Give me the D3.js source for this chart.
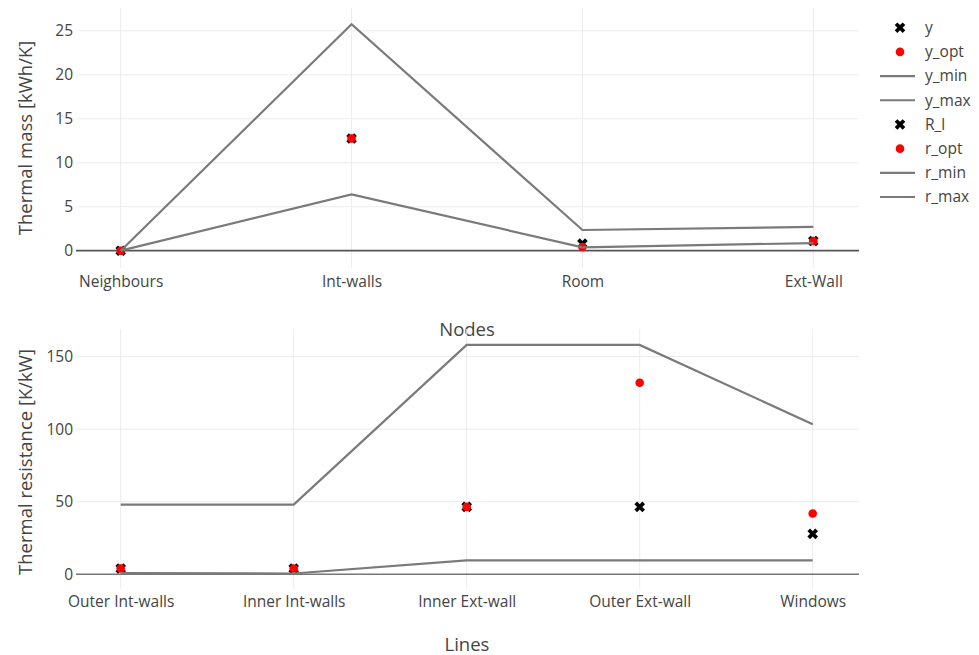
<!DOCTYPE html>
<html>
<head>
<meta charset="utf-8">
<script src="https://cdn.jsdelivr.net/npm/d3@7"></script>
<style>
  body { margin: 0; background: #fff; }
  svg { font-family: "Open Sans", "DejaVu Sans", sans-serif; }
</style>
</head>
<body>
<div></div>
<script>
// datos del grafico superior (nodos)
var nodes = ['Neighbours', 'Int-walls', 'Room', 'Ext-Wall'];
var y_val = [0, 12.75, 0.8, 1.1];
var y_opt = [0, 12.75, 0.42, 1.1];
var y_min = [0, 6.4, 0.38, 0.87];
var y_max = [0, 25.75, 2.35, 2.7];
var massTicks = [0, 5, 10, 15, 20, 25];

// datos del grafico inferior (lineas)
var lines = ['Outer Int-walls', 'Inner Int-walls', 'Inner Ext-wall', 'Outer Ext-wall', 'Windows'];
var R_l = [3.9, 3.9, 46.4, 46.4, 27.8];
var r_opt = [3.9, 3.9, 46.4, 132, 41.8];
var r_min = [0.7, 0.5, 9.5, 9.5, 9.5];
var r_max = [48, 48, 158, 158, 103.4];
var resTicks = [0, 50, 100, 150];

var legendNames = ['y', 'y_opt', 'y_min', 'y_max', 'R_l', 'r_opt', 'r_min', 'r_max'];
var legendKinds = ['x', 'dot', 'line', 'line', 'x', 'dot', 'line', 'line'];

var width = 979, height = 655;
var left = 76, right = 859;
var lineColor = '#7a7a7a';

var svg = d3.select('div')
    .append('svg')
    .attr('width', width)
    .attr('height', height);

svg.append('rect').attr('width', width).attr('height', height).attr('fill', '#fff');

function panel(cfg) {
    var g = svg.append('g');
    var x = d3.scalePoint().domain(cfg.cats).range(cfg.xr);
    var y = d3.scaleLinear().domain(cfg.yd).range([cfg.bottom, cfg.top]);

    // rejilla
    g.selectAll('.vg').data(cfg.cats).enter().append('line')
        .attr('x1', d => x(d)).attr('x2', d => x(d))
        .attr('y1', cfg.top).attr('y2', cfg.bottom)
        .attr('stroke', '#ececec').attr('stroke-width', 1);
    g.selectAll('.hg').data(cfg.ticks.filter(t => t !== 0)).enter().append('line')
        .attr('x1', left).attr('x2', right)
        .attr('y1', d => y(d)).attr('y2', d => y(d))
        .attr('stroke', '#ececec').attr('stroke-width', 1);
    g.append('line')
        .attr('x1', left).attr('x2', right)
        .attr('y1', y(0)).attr('y2', y(0))
        .attr('stroke', cfg.zeroColor).attr('stroke-width', cfg.zeroWidth);

    // etiquetas de ejes
    var yaxis = d3.axisLeft(y).tickValues(cfg.ticks).tickSize(0).tickPadding(0);
    var ya = g.append('g').attr('transform', 'translate(73,0)').call(yaxis);
    ya.select('.domain').remove();
    ya.selectAll('text').attr('font-size', 15.5).attr('fill', '#444').attr('font-family', 'Open Sans');

    var xaxis = d3.axisBottom(x).tickSize(0).tickPadding(0);
    var xa = g.append('g').attr('transform', 'translate(0,' + (cfg.labelY - 10) + ')').call(xaxis);
    xa.select('.domain').remove();
    xa.selectAll('text').attr('font-size', 15.5).attr('fill', '#444').attr('font-family', 'Open Sans');

    g.append('text')
        .attr('x', 467).attr('y', cfg.titleY)
        .attr('text-anchor', 'middle')
        .attr('font-size', 18.5).attr('fill', '#444')
        .text(cfg.xTitle);
    g.append('text')
        .attr('transform', 'translate(32,' + cfg.yTitleY + ') rotate(-90)')
        .attr('text-anchor', 'middle')
        .attr('font-size', 18.5).attr('fill', '#444')
        .text(cfg.yTitle);

    // marcadores
    var xs = d3.symbol().type(d3.symbolCross).size(70);
    g.selectAll('.xm').data(cfg.cats).enter().append('path')
        .attr('d', xs)
        .attr('transform', (d, i) => 'translate(' + x(d) + ',' + y(cfg.xv[i]) + ') rotate(45)')
        .attr('fill', '#000');
    g.selectAll('.dm').data(cfg.cats).enter().append('circle')
        .attr('cx', d => x(d)).attr('cy', (d, i) => y(cfg.opt[i]))
        .attr('r', 4.3).attr('fill', '#ff0000');

    // lineas min / max
    var lg = d3.line().x((d, i) => x(cfg.cats[i])).y(d => y(d));
    [cfg.min, cfg.max].forEach(function(s) {
        g.append('path').datum(s)
            .attr('d', lg)
            .attr('fill', 'none')
            .attr('stroke', lineColor)
            .attr('stroke-width', 2.2);
    });
}

panel({cats: nodes, xr: [120.7, 813.3], yd: [-1.97, 27.6], top: 8, bottom: 268,
       ticks: massTicks, xv: y_val, opt: y_opt, min: y_min, max: y_max,
       zeroColor: '#555', zeroWidth: 1.8, labelY: 286, titleY: 336, yTitleY: 138,
       xTitle: 'Nodes', yTitle: 'Thermal mass [kWh/K]'});

panel({cats: lines, xr: [120.7, 812.7], yd: [-10.2, 169], top: 329, bottom: 589,
       ticks: resTicks, xv: R_l, opt: r_opt, min: r_min, max: r_max,
       zeroColor: '#777', zeroWidth: 1.4, labelY: 606, titleY: 651, yTitleY: 462,
       xTitle: 'Lines', yTitle: 'Thermal resistance [K/kW]'});

// leyenda
var leg = svg.append('g');
var ly = d3.scaleLinear().domain([0, 7]).range([27.7, 197]);
legendNames.forEach(function(n, i) {
    var yy = ly(i);
    if (legendKinds[i] === 'x') {
        leg.append('path').attr('d', d3.symbol().type(d3.symbolCross).size(70))
            .attr('transform', 'translate(900,' + yy + ') rotate(45)')
            .attr('fill', '#000');
    } else if (legendKinds[i] === 'dot') {
        leg.append('circle').attr('cx', 900).attr('cy', yy).attr('r', 4.3).attr('fill', '#ff0000');
    } else {
        leg.append('line').attr('x1', 880).attr('x2', 915).attr('y1', yy).attr('y2', yy)
            .attr('stroke', lineColor).attr('stroke-width', 2.2);
    }
    leg.append('text').attr('x', 925).attr('y', yy).attr('dy', '0.35em')
        .attr('font-size', 15.5).attr('fill', '#444').text(n);
});
</script>
</body>
</html>
